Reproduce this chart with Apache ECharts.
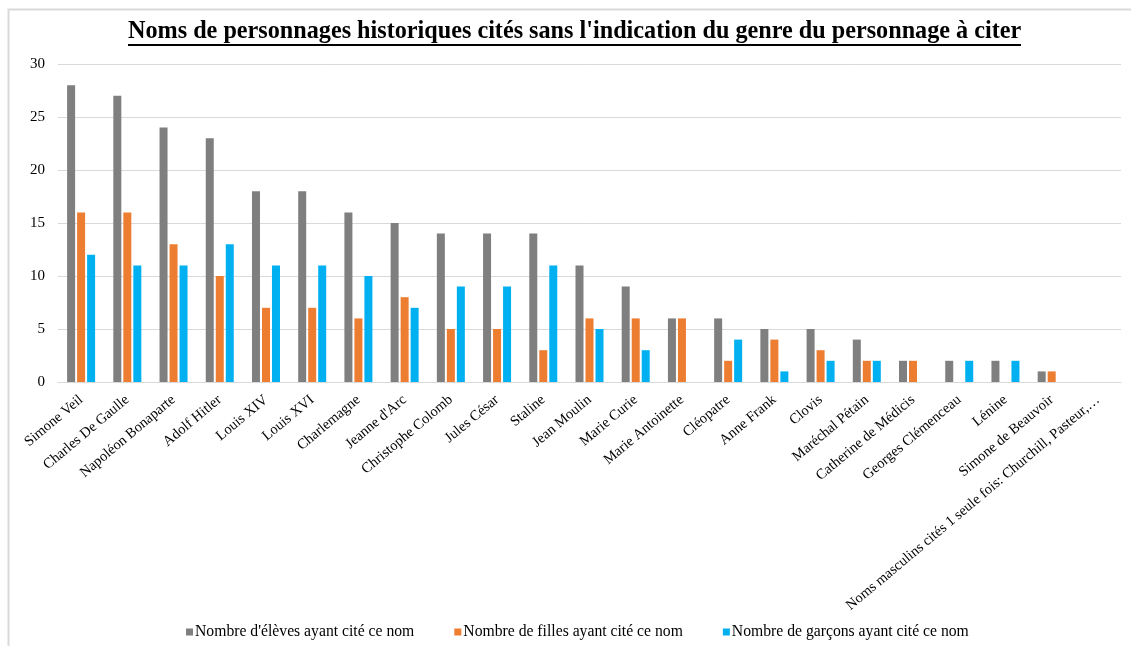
<!DOCTYPE html>
<html><head><meta charset="utf-8">
<script src="https://cdn.jsdelivr.net/npm/echarts@6/dist/echarts.min.js"></script>
<style>html,body{margin:0;padding:0;background:#fff}#c{width:1131px;height:646px}</style>
</head><body><div id="c"></div>
<script>
const categories = ["Simone Veil","Charles De Gaulle","Napoléon Bonaparte","Adolf Hitler","Louis XIV","Louis XVI","Charlemagne","Jeanne d'Arc","Christophe Colomb","Jules César","Staline","Jean Moulin","Marie Curie","Marie Antoinette","Cléopatre","Anne Frank","Clovis","Maréchal Pétain","Catherine de Médicis","Georges Clémenceau","Lénine","Simone de Beauvoir","Noms masculins cités 1 seule fois: Churchill, Pasteur,…"];
const eleves = [28,27,24,23,18,18,16,15,14,14,14,11,9,6,6,5,5,4,2,2,2,1,0];
const filles = [16,16,13,10,7,7,6,8,5,5,3,6,6,6,2,4,3,2,2,0,0,1,0];
const garcons = [12,11,11,13,11,11,10,7,9,9,11,5,3,0,4,1,2,2,0,2,2,0,0];
const seriesNames = ["Nombre d'élèves ayant cité ce nom","Nombre de filles ayant cité ce nom","Nombre de garçons ayant cité ce nom"];
const titleText = "Noms de personnages historiques cités sans l'indication du genre du personnage à citer";

const font = "'Liberation Serif','Times New Roman',serif";
const chart = echarts.init(document.getElementById('c'));
const mk = (name, data, color) => ({
  name, type: 'bar', data, barWidth: 8, barGap: '25%',
  itemStyle: { color }
});
chart.setOption({
  animation: false,
  title: {
    text: titleText, left: 123, top: 15,
    textStyle: { fontFamily: font, fontSize: 24.2, fontWeight: 'bold', color: '#000' }
  },
  graphic: [
    { type: 'rect', shape: { x: 8.5, y: 9.5, width: 1200, height: 700 }, style: { fill: 'none', stroke: '#d9d9d9', lineWidth: 2 }, silent: true },
    { type: 'line', shape: { x1: 128, y1: 45, x2: 1021, y2: 45 }, style: { stroke: '#000', lineWidth: 2 }, silent: true }
  ],
  legend: {
    bottom: 1, left: 181, itemWidth: 7, itemHeight: 7, itemGap: 40,
    icon: 'rect',
    textStyle: { fontFamily: font, fontSize: 15.7, color: '#000', padding: [0,0,0,-3] },
    data: seriesNames
  },
  grid: { left: 58, right: 10, top: 64, bottom: 264, containLabel: false },
  xAxis: {
    type: 'category', data: categories,
    axisLine: { lineStyle: { color: '#d9d9d9' } },
    axisTick: { show: false },
    axisLabel: { rotate: 40, interval: 0, fontFamily: font, fontSize: 14.5, color: '#000', margin: 16 }
  },
  yAxis: {
    type: 'value', min: 0, max: 30, interval: 5,
    axisLine: { show: false }, axisTick: { show: false },
    splitLine: { lineStyle: { color: '#d9d9d9', width: 1 } },
    axisLabel: { fontFamily: font, fontSize: 15, color: '#000', margin: 13 }
  },
  series: [
    mk(seriesNames[0], eleves, '#7f7f7f'),
    mk(seriesNames[1], filles, '#ed7d31'),
    mk(seriesNames[2], garcons, '#00b0f0')
  ]
});
</script></body></html>
